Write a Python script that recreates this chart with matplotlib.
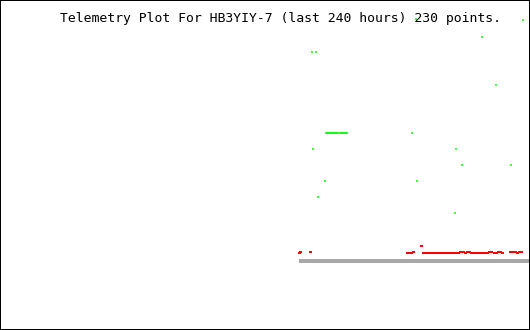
import matplotlib
matplotlib.use("Agg")
import matplotlib.pyplot as plt

# hours relative to now, values in plot units (0 = grey baseline)
green_hours = [-51.6, -3.2, -21.7, -98.7, -96.9, -15.4,
               -92.4, -91.9, -91.5, -91.0, -90.6, -90.1, -89.7, -89.2, -88.8,
               -88.3, -87.9, -87.4, -87.0,
               -86.0, -85.6, -85.1, -84.7, -84.2, -83.8, -83.3, -82.9,
               -53.4, -98.3, -33.5, -30.8, -8.6, -92.8, -51.2, -96.0, -34.0]
green_vals = [242, 241, 224, 209, 209, 176,
              128, 128, 128, 128, 128, 128, 128, 128, 128,
              128, 128, 128, 128,
              128, 128, 128, 128, 128, 128, 128, 128,
              128, 112, 112, 96, 96, 80, 80, 64, 48]

red_hours = [-104.6, -104.2, -99.6, -55.7, -54.8, -53.9, -53.0, -49.4,
             -48.5, -47.5, -46.5, -45.5, -44.5, -43.5, -42.5, -41.5, -40.5,
             -39.5, -38.5, -37.5, -36.5, -35.5, -34.5, -33.5, -32.5, -31.5,
             -30.5, -29.5, -28.5, -27.5, -26.5, -25.5, -24.5, -23.5, -22.5,
             -21.5, -20.5, -19.5, -18.5, -17.5, -16.5, -15.5, -14.5, -13.5,
             -12.5, -9.0, -8.0, -7.0, -6.0, -5.0, -4.0]
red_vals = [8, 9, 9, 8, 8, 8, 9, 15,
            8, 8, 8, 8, 8, 8, 8, 8, 8,
            8, 8, 8, 8, 8, 8, 8, 8, 9,
            9, 8, 9, 9, 8, 8, 8, 8, 8,
            8, 8, 8, 9, 9, 8, 8, 9, 9,
            8, 9, 9, 9, 8, 9, 9]

base_hours = [-104.6, 0]
base_vals = [0, 0]

title = "Telemetry Plot For HB3YIY-7 (last 240 hours) 230 points."

px = 72 / 100  # one pixel in points at dpi 100

fig = plt.figure(figsize=(5.3, 3.3), dpi=100)
ax = fig.add_axes([0, 0, 1, 1])
ax.set_xlim(-240, 0)
ax.set_ylim(-69, 261)
ax.set_xticks([])
ax.set_yticks([])
for s in ax.spines.values():
    s.set_color("black")
    s.set_linewidth(2 * px)

ax.plot(base_hours, base_vals, color="#a8a8a8", lw=2.3 * px,
        solid_capstyle="butt", antialiased=False)
ax.plot(red_hours, red_vals, ls="none", marker="_", ms=3 * px, mew=2 * px,
        color="#ff0000", antialiased=False)
ax.plot(green_hours, green_vals, ls="none", marker="|", ms=2 * px, mew=1.5 * px,
        color="#00ff00", antialiased=False)

fig.text(60 / 530, 1 - 22 / 330, title, family="DejaVu Sans Mono",
         fontsize=9.45, color="black", va="baseline", ha="left")

fig.savefig("out.png", dpi=100, facecolor="white")
